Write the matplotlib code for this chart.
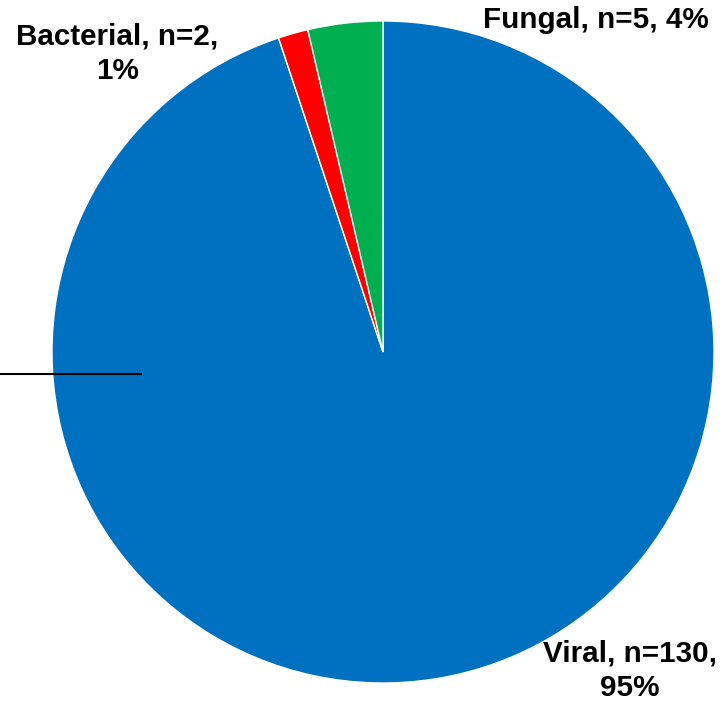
import matplotlib
matplotlib.use("Agg")
import matplotlib.pyplot as plt

# Infection types and counts
categories = ["Viral", "Bacterial", "Fungal"]
counts = [130, 2, 5]
colors = ["#0070C0", "#FF0000", "#00B050"]

W, H = 727, 704
fig = plt.figure(figsize=(W / 100, H / 100), dpi=100)
ax = fig.add_axes([0, 0, 1, 1])
ax.set_xlim(0, W)
ax.set_ylim(0, H)
ax.set_aspect("equal")
ax.axis("off")

ax.pie(counts, colors=colors, startangle=90, counterclock=False,
       center=(383, H - 352), radius=331,
       wedgeprops=dict(edgecolor="white", linewidth=1.0))
ax.set_xlim(0, W)
ax.set_ylim(0, H)

total = sum(counts)
pct = {c: round(100 * v / total) for c, v in zip(categories, counts)}
n = dict(zip(categories, counts))

font = dict(family=["Liberation Sans", "DejaVu Sans"], fontsize=21.3,
            fontweight="bold", color="black", ha="center", va="center",
            linespacing=1.31)

ax.text(117.5, H - 54, f"Bacterial, n={n['Bacterial']},\n{pct['Bacterial']}%", **font)
ax.text(596, H - 20, f"Fungal, n={n['Fungal']}, {pct['Fungal']}%", **font)
ax.text(630, H - 671, f"Viral, n={n['Viral']},\n{pct['Viral']}%", **font)

# leader line on the left
ax.plot([0, 142], [H - 374, H - 374], color="black", linewidth=1.5,
        solid_capstyle="butt")

fig.savefig("out.png", dpi=100)
